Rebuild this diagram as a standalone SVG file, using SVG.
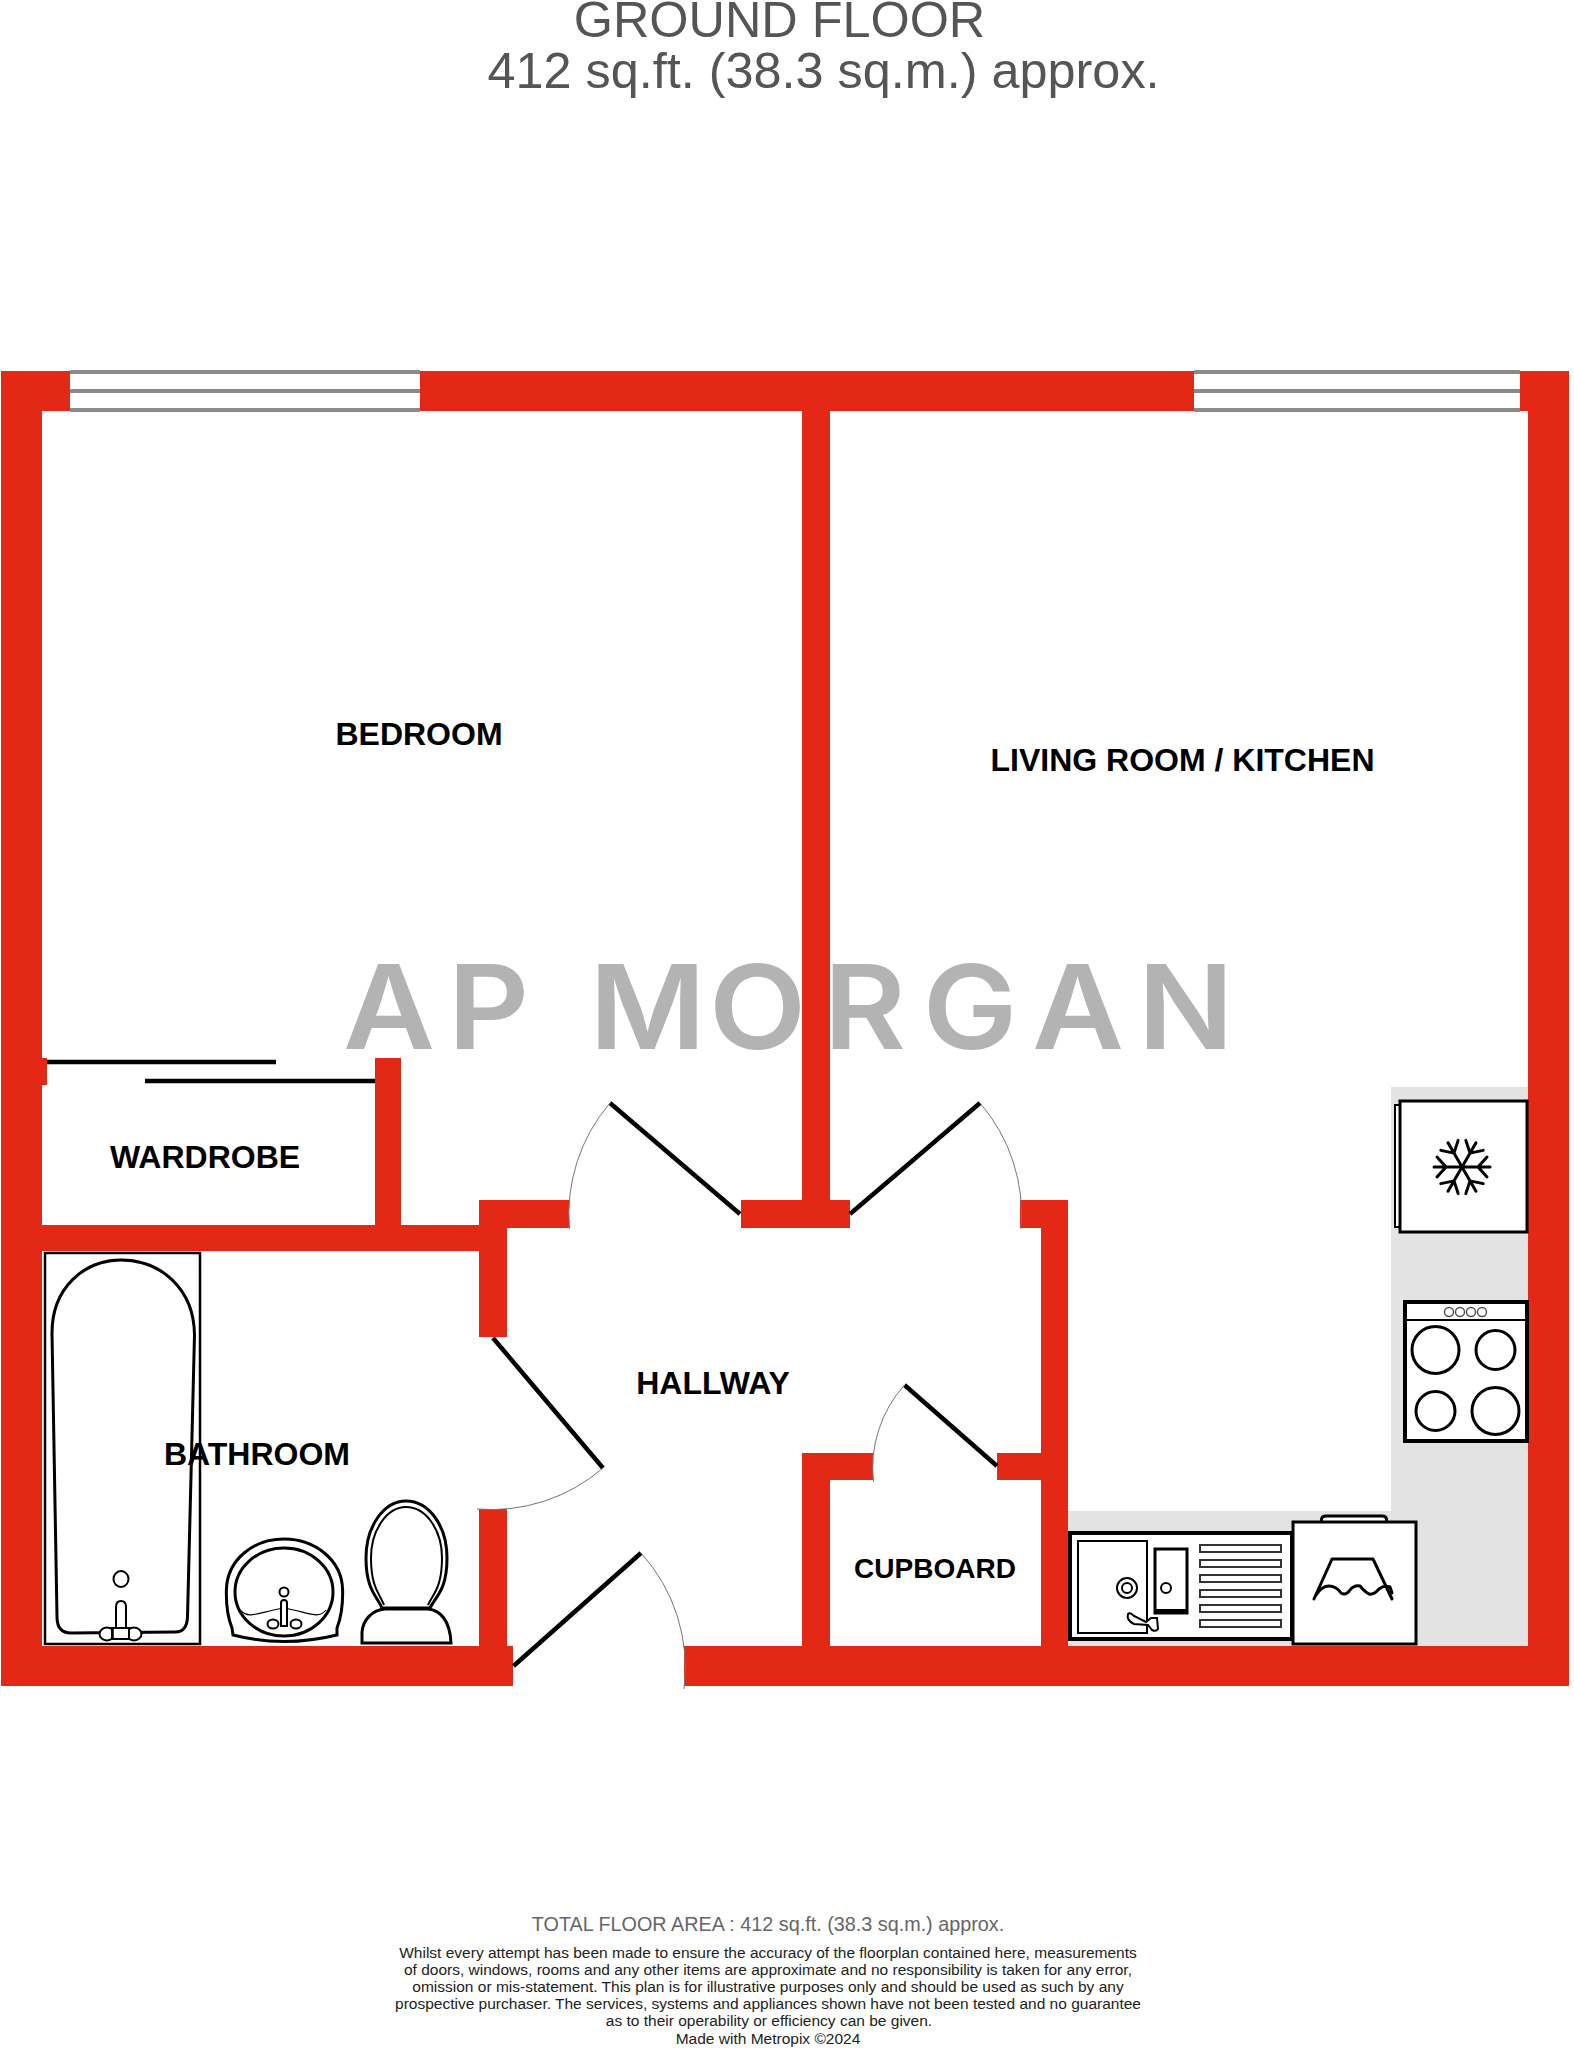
<svg xmlns="http://www.w3.org/2000/svg" width="1574" height="2048" viewBox="0 0 1574 2048">
<style>
text{font-family:"Liberation Sans",Arial,sans-serif}
.t{text-anchor:middle;fill:#555}
.room{font-weight:700;fill:#000;text-anchor:middle}
.f{font-size:15.5px;fill:#222;text-anchor:middle}
.w{fill:#e32916}
.win{stroke:#8a8a8a;stroke-width:4;fill:none}
.dl{stroke:#000;stroke-width:4.5;fill:none}
.arc{stroke:#777;stroke-width:1;fill:none}
.k{stroke:#000;fill:#fff;stroke-width:3}
.k2{stroke:#000;fill:#fff;stroke-width:2}
.k4{stroke:#000;fill:#fff;stroke-width:4}
.n{fill:none;stroke:#000;stroke-width:3;stroke-linecap:round;stroke-linejoin:round}
</style>
<defs>
<g id="arm"><path d="M0 0H28M16 0L25 -10M16 0L25 10" fill="none" stroke="#000" stroke-width="3" stroke-linecap="round"/></g>
</defs>
<rect width="1574" height="2048" fill="#fff"/>
<g id="titles">
<text class="t" x="779.5" y="37" font-size="50.4">GROUND FLOOR</text>
<text class="t" x="823.5" y="88" font-size="50.4">412 sq.ft. (38.3 sq.m.) approx.</text>
</g>
<g id="kitchen-floor" fill="#e3e3e3">
<rect x="1391" y="1087" width="140" height="560"/>
<rect x="1068" y="1511" width="330" height="136"/>
</g>
<g id="watermark">
<text transform="translate(344 0) scale(1.08 1)" x="-1 96 200 227 338 444 536 637 735" y="1049" font-size="117" font-weight="600" fill="#b3b3b3" style="font-family:Inter,sans-serif">AP MORGAN</text>
</g>
<g id="walls" class="w">
<rect x="1" y="371" width="69" height="40"/>
<rect x="420" y="371" width="774" height="40"/>
<rect x="1520" y="371" width="49" height="40"/>
<rect x="1" y="371" width="41" height="1315"/>
<rect x="1528" y="371" width="41" height="1315"/>
<rect x="1" y="1646" width="512" height="40"/>
<rect x="684" y="1646" width="885" height="40"/>
<rect x="802" y="371" width="28" height="857"/>
<rect x="741" y="1200" width="109" height="28"/>
<rect x="42" y="1225" width="465" height="26"/>
<rect x="375" y="1058" width="26" height="193"/>
<rect x="42" y="1058" width="5" height="27"/>
<rect x="479" y="1200" width="90" height="28"/>
<rect x="479" y="1200" width="28" height="137"/>
<rect x="479" y="1509" width="28" height="177"/>
<rect x="1020" y="1200" width="48" height="28"/>
<rect x="1041" y="1200" width="27" height="486"/>
<rect x="802" y="1453" width="28" height="233"/>
<rect x="802" y="1453" width="71" height="27"/>
<rect x="997" y="1453" width="71" height="27"/>
</g>
<g id="windows" class="win">
<path d="M70 372H420M70 391H420M70 410H420"/>
<path d="M1194 372H1520M1194 391H1520M1194 410H1520"/>
</g>
<g id="doors">
<path class="dl" d="M740 1214L610 1103"/><path class="arc" d="M610 1103A171 171 0 0 0 569.5 1229"/>
<path class="dl" d="M850 1214L980 1103"/><path class="arc" d="M980 1103A171 171 0 0 1 1021 1229"/>
<path class="dl" d="M493 1338L603 1468"/><path class="arc" d="M603 1468A171 171 0 0 1 477 1509"/>
<path class="dl" d="M513.5 1666L641 1553"/><path class="arc" d="M641 1553A171 171 0 0 1 684 1689"/>
<path class="dl" d="M997 1466L904.5 1385"/><path class="arc" d="M904.5 1385A124 124 0 0 0 873.5 1482"/>
<path class="dl" d="M47 1062H276M145 1081H375"/>
</g>
<g id="bath">
<rect x="45" y="1253" width="155" height="391" fill="#fff" stroke="#000" stroke-width="2.5"/>
<path class="k" d="M52 1333C52 1288 84 1260 121 1260C160 1260 194 1288 194.5 1335L187.5 1617Q187 1632 175 1632L71 1633Q57 1633 57 1617Z"/>
<ellipse class="k2" cx="121" cy="1579" rx="7.5" ry="8"/>
<path class="k2" d="M116 1638V1607Q116 1601 121 1601Q126 1601 126 1607V1638Z"/>
<ellipse class="k2" cx="107" cy="1634" rx="7.5" ry="6.5"/><ellipse class="k2" cx="134" cy="1634" rx="7.5" ry="6.5"/>
<path class="k2" d="M112 1628H129V1639H112Z" stroke="none"/>
<path d="M113 1628V1640M129 1628V1640" stroke="#000" stroke-width="1.5"/>
</g>
<g id="basin">
<path class="k" d="M233 1635Q284 1648 337 1635L337 1628C342 1615 343 1605 342.6 1590C342 1560 315 1539 284 1539C253 1539 227 1560 226.4 1590C226 1605 228 1618 232 1628Z"/>
<ellipse class="k" stroke-width="2" cx="284" cy="1592" rx="49" ry="44"/>
<path d="M240 1610C250 1620 258 1612 284 1608C308 1612 318 1620 326 1610" fill="none" stroke="#000" stroke-width="1.2"/>
<circle class="k2" cx="284" cy="1592" r="4.5"/>
<path class="k2" d="M281 1626V1603Q281 1600 284 1600Q287 1600 287 1603V1626Z"/>
<ellipse class="k2" cx="273" cy="1624" rx="5.5" ry="4.5"/><ellipse class="k2" cx="296" cy="1624" rx="5.5" ry="4.5"/>
</g>
<g id="toilet">
<path class="k" d="M382 1608C377 1596 366 1590 366 1558C366 1526 384 1501 406 1501C429 1501 447 1526 447 1558C447 1590 436 1596 430 1608Z"/>
<path class="k2" d="M384 1605C380 1594 371 1588 371 1558C371 1530 387 1507 406 1507C426 1507 442 1530 442 1558C442 1588 433 1594 428 1605"/>
<path class="k" d="M362 1643V1632C363 1620 372 1610 385 1609H428C440 1610 450 1620 451 1643Z"/>
</g>
<g id="fridge">
<rect class="k2" x="1395" y="1105" width="6" height="122"/>
<rect class="k" x="1400" y="1101" width="127" height="131"/>
<g transform="translate(1462 1167)">
<use href="#arm"/><use href="#arm" transform="rotate(60)"/><use href="#arm" transform="rotate(120)"/><use href="#arm" transform="rotate(180)"/><use href="#arm" transform="rotate(240)"/><use href="#arm" transform="rotate(300)"/>
</g>
</g>
<g id="oven">
<rect class="k4" x="1405" y="1302" width="122" height="139"/>
<path d="M1405 1320H1527" stroke="#000" stroke-width="2"/>
<g fill="#fff" stroke="#555" stroke-width="1.5"><circle cx="1449" cy="1312" r="4.5"/><circle cx="1460" cy="1312" r="4.5"/><circle cx="1471" cy="1312" r="4.5"/><circle cx="1482" cy="1312" r="4.5"/></g>
<circle class="k" cx="1435.5" cy="1350" r="23.5"/><circle class="k" cx="1495.5" cy="1350" r="19.5"/><circle class="k" cx="1435.5" cy="1411" r="19.5"/><circle class="k" cx="1495.5" cy="1411" r="23.5"/>
</g>
<g id="sink">
<rect class="k4" x="1070" y="1533" width="222" height="106"/>
<rect class="k2" x="1078" y="1541" width="69" height="92"/>
<circle class="k2" cx="1127" cy="1588" r="10"/><circle class="k2" cx="1127" cy="1588" r="5"/>
<rect class="k" x="1155" y="1549" width="32" height="64"/>
<rect x="1156" y="1609" width="30" height="4"/>
<circle class="k2" cx="1166" cy="1588" r="5"/>
<g fill="#fff" stroke="#333" stroke-width="2"><rect x="1200" y="1545" width="81" height="7"/><rect x="1200" y="1560" width="81" height="7"/><rect x="1200" y="1575" width="81" height="7"/><rect x="1200" y="1590" width="81" height="7"/><rect x="1200" y="1605" width="81" height="7"/><rect x="1200" y="1620" width="81" height="7"/></g>
<path class="k2" d="M1128 1614Q1130 1612 1134 1616L1146 1622L1151 1618H1157L1158 1629Q1156 1632 1152 1630L1148 1625L1134 1624Q1126 1620 1128 1614Z"/>
</g>
<g id="washer">
<path class="k" d="M1321.5 1522V1519Q1322 1516 1326 1516H1382Q1386 1516 1386.5 1519V1522"/>
<rect class="k" x="1293" y="1522" width="123" height="122"/>
<path class="n" d="M1314 1599L1332 1559H1373L1392 1599"/>
<path class="n" d="M1316 1595Q1322 1586 1329 1586Q1336 1586 1341 1593Q1346 1596 1350 1590Q1354 1585 1360 1586Q1365 1592 1369 1594Q1374 1595 1379 1589Q1384 1585 1390 1587L1392 1593" stroke-width="2.5"/>
</g>
<g id="labels">
<text class="room" x="419" y="745" font-size="32">BEDROOM</text>
<text class="room" x="1182.5" y="771" font-size="32">LIVING ROOM / KITCHEN</text>
<text class="room" x="205" y="1168" font-size="32">WARDROBE</text>
<text class="room" x="257" y="1465" font-size="32">BATHROOM</text>
<text class="room" x="713" y="1394" font-size="32">HALLWAY</text>
<text class="room" x="935" y="1578" font-size="28">CUPBOARD</text>
</g>
<g id="footer">
<text x="768" y="1931" font-size="19.8" fill="#666" text-anchor="middle">TOTAL FLOOR AREA : 412 sq.ft. (38.3 sq.m.) approx.</text>
<text class="f" x="768" y="1958">Whilst every attempt has been made to ensure the accuracy of the floorplan contained here, measurements</text>
<text class="f" x="768" y="1975">of doors, windows, rooms and any other items are approximate and no responsibility is taken for any error,</text>
<text class="f" x="768" y="1992">omission or mis-statement. This plan is for illustrative purposes only and should be used as such by any</text>
<text class="f" x="768" y="2009">prospective purchaser. The services, systems and appliances shown have not been tested and no guarantee</text>
<text class="f" x="769" y="2026">as to their operability or efficiency can be given.</text>
<text class="f" x="768" y="2044">Made with Metropix ©2024</text>
</g>
</svg>
